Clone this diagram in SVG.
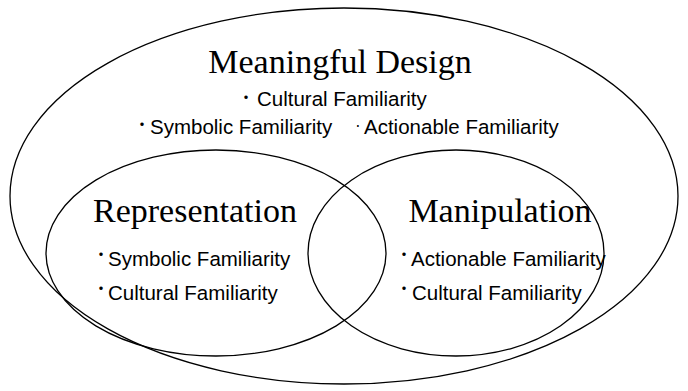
<svg xmlns="http://www.w3.org/2000/svg" width="688" height="391" viewBox="0 0 688 391">
<style>
.ell{fill:none;stroke:#000;stroke-width:1.3}
.title{font-family:"Liberation Serif","Times New Roman",serif;font-size:34px;fill:#000}
.item{font-family:"Liberation Sans",Arial,sans-serif;font-size:20.5px;fill:#000}
.dot{font-family:"Noto Sans CJK JP",sans-serif;font-size:16px;fill:#000;text-anchor:middle}
.mdot{font-family:"Noto Sans CJK JP",sans-serif;font-size:14px;fill:#000;text-anchor:middle}
</style>
<rect width="688" height="391" fill="#fff"/>
<g id="meaningful-design">
<ellipse class="ell" cx="344" cy="196" rx="334" ry="188"/>
<text class="title" x="340" y="73" text-anchor="middle">Meaningful Design</text>
<text class="dot" x="246" y="102.5">・</text>
<text class="item" x="257" y="106">Cultural Familiarity</text>
<text class="dot" x="142" y="130">・</text>
<text class="item" x="150" y="134">Symbolic Familiarity</text>
<text class="mdot" x="358" y="131">·</text>
<text class="item" x="364" y="134">Actionable Familiarity</text>
</g>
<g id="representation">
<ellipse class="ell" cx="216" cy="253" rx="170" ry="103"/>
<text class="title" x="195" y="222" text-anchor="middle">Representation</text>
<text class="dot" x="101" y="259.5">・</text>
<text class="item" x="108" y="266">Symbolic Familiarity</text>
<text class="dot" x="101" y="294">・</text>
<text class="item" x="108" y="300">Cultural Familiarity</text>
</g>
<g id="manipulation">
<ellipse class="ell" cx="456" cy="253" rx="148" ry="103"/>
<text class="title" x="500" y="222" text-anchor="middle">Manipulation</text>
<text class="dot" x="404" y="259.5">・</text>
<text class="item" x="411" y="266">Actionable Familiarity</text>
<text class="dot" x="404" y="294">・</text>
<text class="item" x="412" y="300">Cultural Familiarity</text>
</g>
<g id="connectors"></g>
</svg>
